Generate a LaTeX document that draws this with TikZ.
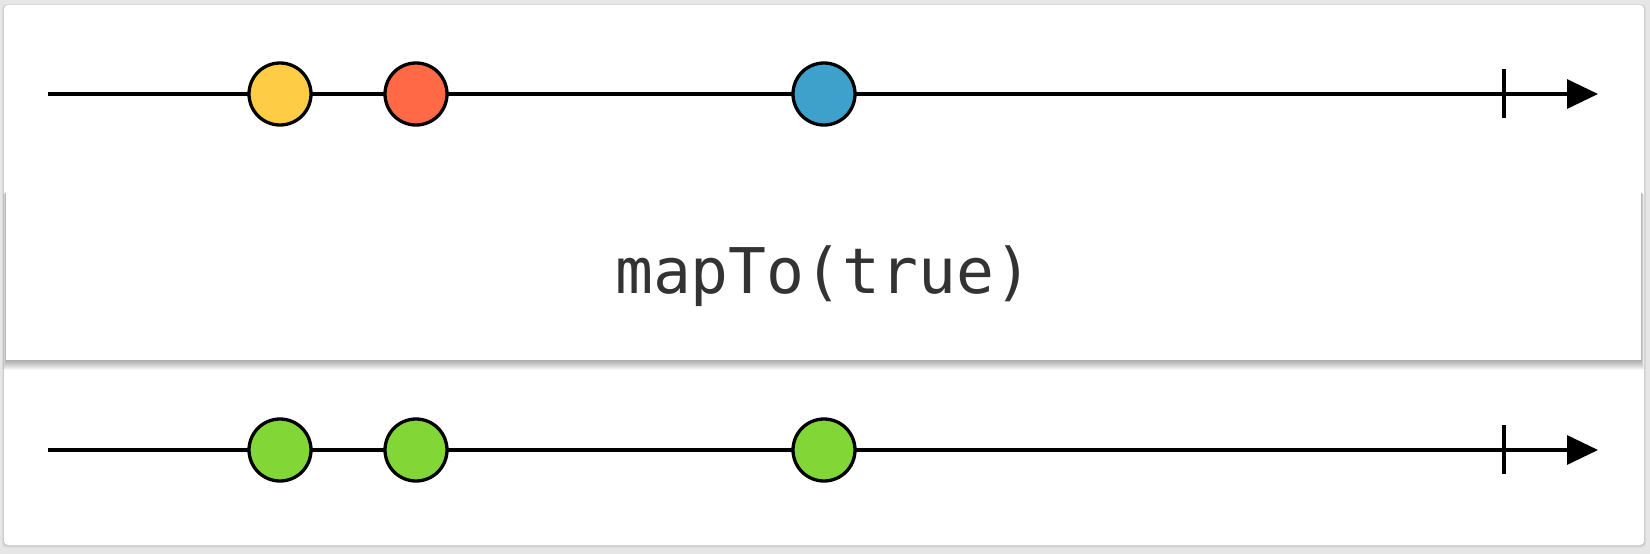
\documentclass[tikz,border=0pt]{standalone}
\usepackage{fontspec}
\newfontfamily\monofont{DejaVu Sans Mono}
\usetikzlibrary{arrows.meta}
\definecolor{bggray}{HTML}{E6E6E6}
\definecolor{mYellow}{HTML}{FFCC46}
\definecolor{mRed}{HTML}{FF6946}
\definecolor{mBlue}{HTML}{3EA1CB}
\definecolor{mGreen}{HTML}{82D736}
\definecolor{txtgray}{HTML}{333333}
\tikzset{
  marble/.style={circle, draw=black, line width=3.3pt, minimum size=62pt, inner sep=0pt},
  timeline/.style={draw=black, line width=3.3pt, -{Triangle[length=31pt,width=29pt]}},
  endtick/.style={draw=black, line width=3.3pt},
  opbox/.style={draw=none, fill=white, minimum width=1635pt, minimum height=169pt, inner sep=0pt},
  oplabel/.style={font=\monofont\fontsize{63}{70}\selectfont, text=txtgray}
}
\begin{document}
\begin{tikzpicture}[x=1pt,y=-1pt]
\useasboundingbox (0,0) rectangle (1650,554);
\fill[bggray] (0,0) rectangle (1650,554);
% card with soft shadow
\foreach \i in {1,...,4}{
  \fill[black, opacity=0.03, rounded corners=4pt] (4-\i*0.5,5-\i*0.5+1) rectangle (1644+\i*0.5,545+\i*0.7);
}
\fill[white, rounded corners=4pt] (4,5) rectangle (1644,545);
% top timeline
\coordinate (s1) at (48,94);
\coordinate (e1) at (1598,94);
\draw[timeline] (s1) -- (e1);
\coordinate (t1a) at (1504,69);
\coordinate (t1b) at (1504,118);
\draw[endtick] (t1a) -- (t1b);
\node[marble, fill=mYellow] (y1) at (280,94) {};
\node[marble, fill=mRed] (r1) at (416,94) {};
\node[marble, fill=mBlue] (b1) at (824,94) {};
% operator box shadow
\foreach \i in {1,...,10}{
  \fill[black, opacity=0.035] (6-\i*0.3,191+\i*0.3) rectangle (1641+\i*0.3,360+\i*1.0);
}
\node[opbox, anchor=north west] (op) at (6,191) {};
\node[oplabel] (lbl) at (op.center) {mapTo(true)};
% bottom timeline
\coordinate (s2) at (48,450);
\coordinate (e2) at (1598,450);
\draw[timeline] (s2) -- (e2);
\coordinate (t2a) at (1504,425);
\coordinate (t2b) at (1504,474);
\draw[endtick] (t2a) -- (t2b);
\node[marble, fill=mGreen] (g1) at (280,450) {};
\node[marble, fill=mGreen] (g2) at (416,450) {};
\node[marble, fill=mGreen] (g3) at (824,450) {};
\end{tikzpicture}
\end{document}
